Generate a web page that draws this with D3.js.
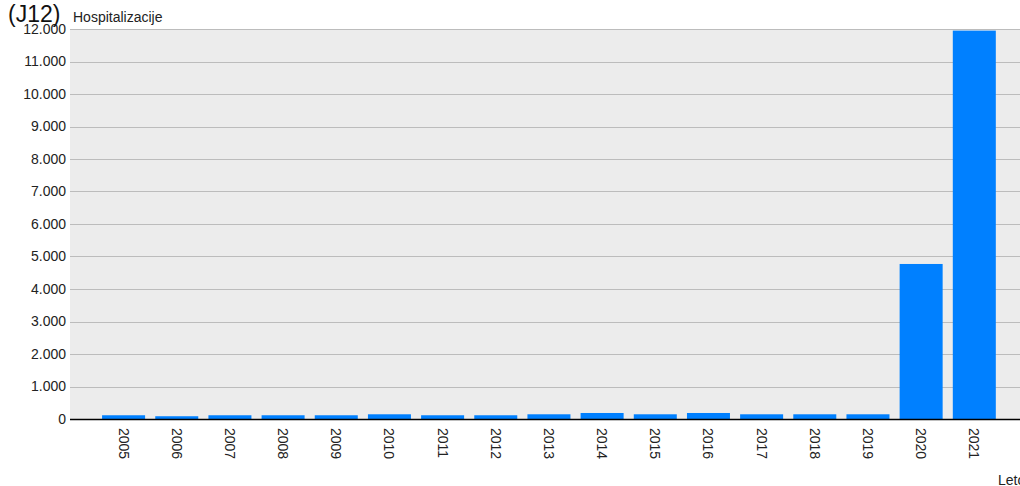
<!DOCTYPE html>
<html>
<head>
<meta charset="utf-8">
<script src="https://cdn.jsdelivr.net/npm/d3@7"></script>
<style>
html,body{margin:0;padding:0;background:#fff;overflow:hidden;}
svg{display:block;font-family:"Liberation Sans",Arial,sans-serif;}
</style>
</head>
<body>
<svg id="chart" width="1020" height="486"></svg>
<script>
const years = ["2005","2006","2007","2008","2009","2010","2011","2012","2013","2014","2015","2016","2017","2018","2019","2020","2021"];
const hospitalizations = [115,85,115,115,115,145,115,115,145,185,145,185,145,145,145,4770,11950];
const yTicks = [0,1000,2000,3000,4000,5000,6000,7000,8000,9000,10000,11000,12000];
const titleText = "(J12)";
const yAxisTitle = "Hospitalizacije";
const xAxisTitle = "Leto";

const W = 1020, H = 486;
const plot = {left:70, right:1020, top:29, bottom:419};
const svg = d3.select("#chart");

const locale = d3.formatLocale({decimal:",", thousands:".", grouping:[3], currency:["",""]});
const fmt = locale.format(",d");

const y = d3.scaleLinear().domain([0,12000]).range([plot.bottom, plot.top]);
const step = 53.17;
const x = d3.scaleBand().domain(years)
  .range([97, 97 + step*years.length])
  .paddingInner(0.191).paddingOuter(0.0955);

// background
svg.append("rect").attr("x",plot.left).attr("y",plot.top)
  .attr("width",plot.right-plot.left).attr("height",plot.bottom-plot.top)
  .attr("fill","#ececec");

// gridlines
svg.append("g").selectAll("line").data(yTicks.filter(d=>d>0)).join("line")
  .attr("x1",plot.left).attr("x2",plot.right)
  .attr("y1",d=>Math.round(y(d))+0.5).attr("y2",d=>Math.round(y(d))+0.5)
  .attr("stroke","#bcbcbc").attr("stroke-width",1);

// bars
svg.append("g").selectAll("rect").data(years).join("rect")
  .attr("x",(d)=>x(d))
  .attr("width",x.bandwidth())
  .attr("y",(d,i)=>y(hospitalizations[i]))
  .attr("height",(d,i)=>y(0)-y(hospitalizations[i]))
  .attr("fill","#0080ff");

// baseline
svg.append("line").attr("x1",plot.left).attr("x2",plot.right)
  .attr("y1",y(0)+0.5).attr("y2",y(0)+0.5)
  .attr("stroke","#000").attr("stroke-width",1.5);

// y axis
const yAxis = d3.axisLeft(y).tickValues(yTicks).tickFormat(fmt).tickSize(0).tickPadding(4);
const gy = svg.append("g").attr("transform",`translate(${plot.left},0)`).call(yAxis);
gy.select(".domain").remove();
gy.selectAll("text").attr("font-size",14).attr("fill","#222")
  .attr("font-family","Liberation Sans, Arial, sans-serif");

// x axis
const xAxis = d3.axisBottom(x).tickSize(0).tickPadding(0);
const gx = svg.append("g").attr("transform",`translate(0,${plot.bottom})`).call(xAxis);
gx.select(".domain").remove();
gx.selectAll("text")
  .attr("font-size",14).attr("fill","#222")
  .attr("font-family","Liberation Sans, Arial, sans-serif")
  .attr("y",0).attr("dy",null)
  .attr("text-anchor","start")
  .attr("dominant-baseline","central")
  .attr("transform","translate(0,9) rotate(90)")
  .attr("x",0);

// titles
svg.append("text").attr("x",8).attr("y",22).attr("font-size",23).attr("fill","#111").text(titleText);
svg.append("text").attr("x",73).attr("y",22).attr("font-size",14).attr("fill","#222").text(yAxisTitle);
svg.append("text").attr("x",998).attr("y",485).attr("font-size",14).attr("fill","#222").text(xAxisTitle);
</script>
</body>
</html>
